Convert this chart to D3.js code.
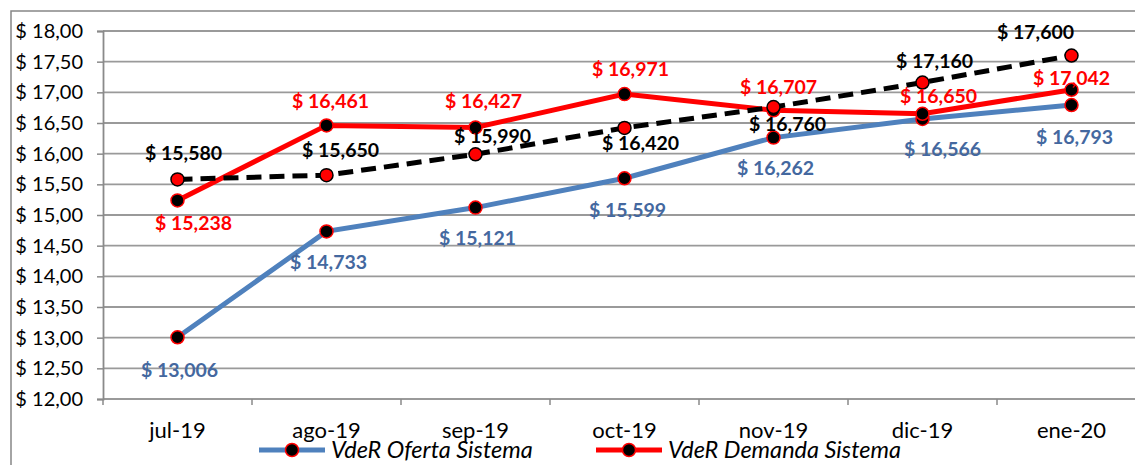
<!DOCTYPE html>
<html>
<head>
<meta charset="utf-8">
<script src="https://cdn.jsdelivr.net/npm/d3@7"></script>
<style>
  body { margin: 0; background: #fff; }
  svg { display: block; font-family: Lato, "Open Sans", sans-serif; }
</style>
</head>
<body>
<div id="chart"></div>
<script>
// Data
const months = ['jul-19', 'ago-19', 'sep-19', 'oct-19', 'nov-19', 'dic-19', 'ene-20'];
const oferta = [13.006, 14.733, 15.121, 15.599, 16.262, 16.566, 16.793];
const demanda = [15.238, 16.461, 16.427, 16.971, 16.707, 16.650, 17.042];
const referencia = [15.580, 15.650, 15.990, 16.420, 16.760, 17.160, 17.600];
const yTicks = [12, 12.5, 13, 13.5, 14, 14.5, 15, 15.5, 16, 16.5, 17, 17.5, 18];

const W = 1135, H = 465;
const margin = { top: 31, left: 103, bottom: 66 };
const plotH = H - margin.top - margin.bottom;
const band = 149;

const svg = d3.select('#chart').append('svg')
  .attr('width', W)
  .attr('height', H);

// Outer chart border (right/bottom edges fall outside the picture)
svg.append('rect')
  .attr('x', 11).attr('y', 11)
  .attr('width', W + 20).attr('height', H + 20)
  .attr('fill', 'none')
  .attr('stroke', '#868686')
  .attr('stroke-width', 1.5);

const x = d3.scaleBand()
  .domain(months)
  .range([margin.left, margin.left + band * months.length])
  .paddingInner(0).paddingOuter(0);

const y = d3.scaleLinear()
  .domain([12, 18])
  .range([margin.top + plotH, margin.top]);

const cx = d => x(d) + x.bandwidth() / 2;

const fmtTick = d => '$ ' + d3.format('.2f')(d).replace('.', ',');
const fmtLabel = d => '$ ' + d3.format('.3f')(d).replace('.', ',');

// Grid lines
svg.append('g')
  .selectAll('line')
  .data(yTicks)
  .join('line')
  .attr('x1', margin.left)
  .attr('x2', W + 20)
  .attr('y1', d => y(d))
  .attr('y2', d => y(d))
  .attr('stroke', '#9a9a9a')
  .attr('stroke-width', 1.8);

// Y axis
const yAxis = svg.append('g')
  .attr('transform', `translate(${margin.left},0)`)
  .call(d3.axisLeft(y).tickValues(yTicks).tickFormat(fmtTick).tickSize(6).tickPadding(14));
yAxis.select('.domain').attr('stroke', '#8a8a8a').attr('stroke-width', 1.8);
yAxis.selectAll('.tick line').attr('stroke', '#8a8a8a').attr('stroke-width', 1.5);
yAxis.selectAll('.tick text')
  .attr('fill', '#000')
  .style('font-size', '20px')
  .style('font-family', 'Lato, sans-serif');

// X axis
const xAxis = svg.append('g')
  .attr('transform', `translate(0,${y(12)})`)
  .call(d3.axisBottom(x).tickSize(0).tickPadding(23));
xAxis.select('.domain').remove();
xAxis.selectAll('.tick text')
  .attr('fill', '#000')
  .style('font-size', '22px')
  .style('font-family', 'Lato, sans-serif');
// boundary ticks between categories
svg.append('g')
  .selectAll('line')
  .data(d3.range(months.length + 1))
  .join('line')
  .attr('x1', i => margin.left + i * band)
  .attr('x2', i => margin.left + i * band)
  .attr('y1', y(12))
  .attr('y2', y(12) + 6)
  .attr('stroke', '#8a8a8a')
  .attr('stroke-width', 1.5);

// Label offsets [dx, dy] per point, placed as in the reference
const series = [
  { name: 'VdeR Oferta Sistema', values: oferta, color: '#4f81bd', labelColor: '#44689f',
    width: 5, dash: null, markerFill: '#000', markerStroke: '#ff0000',
    offsets: [[2, 33], [2, 31], [2, 31], [3, 32], [2, 31], [20, 30], [3, 32]] },
  { name: 'VdeR Demanda Sistema', values: demanda, color: '#ff0000', labelColor: '#ff0000',
    width: 5, dash: null, markerFill: '#000', markerStroke: '#ff0000',
    offsets: [[16, 23], [4, -24], [8, -26], [6, -25], [5, -23], [16, -18], [0, -12]] },
  { name: 'Referencia', values: referencia, color: '#000', labelColor: '#000',
    width: 5, dash: '15,8', markerFill: '#ff0000', markerStroke: '#000',
    offsets: [[6, -26], [14, -25], [17, -18], [16, 15], [14, 17], [12, -21], [-36, -23]] }
];

const line = d3.line()
  .x((d, i) => cx(months[i]))
  .y(d => y(d));

series.forEach(s => {
  svg.append('path')
    .datum(s.values)
    .attr('fill', 'none')
    .attr('stroke', s.color)
    .attr('stroke-width', s.width)
    .attr('stroke-dasharray', s.dash)
    .attr('d', line);

  svg.append('g')
    .selectAll('circle')
    .data(s.values)
    .join('circle')
    .attr('cx', (d, i) => cx(months[i]))
    .attr('cy', d => y(d))
    .attr('r', 6.5)
    .attr('fill', s.markerFill)
    .attr('stroke', s.markerStroke)
    .attr('stroke-width', 1.5);
});

// Data labels on top
series.forEach(s => {
  svg.append('g')
    .selectAll('text')
    .data(s.values)
    .join('text')
    .attr('x', (d, i) => cx(months[i]) + s.offsets[i][0])
    .attr('y', (d, i) => y(d) + s.offsets[i][1])
    .attr('dy', '0.35em')
    .attr('text-anchor', 'middle')
    .style('font-size', '19.5px')
    .style('font-weight', 'bold')
    .attr('fill', s.labelColor)
    .text(fmtLabel);
});

// Legend (only the first two series are visible in the picture)
const legendItems = [
  { s: series[0], x: 259 },
  { s: series[1], x: 596 }
];
const legend = svg.append('g').attr('transform', 'translate(0,450)');
legendItems.forEach(({ s, x: lx }) => {
  const g = legend.append('g').attr('transform', `translate(${lx},0)`);
  g.append('line')
    .attr('x1', 0).attr('x2', 66)
    .attr('stroke', s.color)
    .attr('stroke-width', 5);
  g.append('circle')
    .attr('cx', 33)
    .attr('r', 6.5)
    .attr('fill', s.markerFill)
    .attr('stroke', s.markerStroke)
    .attr('stroke-width', 1.5);
  g.append('text')
    .attr('x', 72)
    .attr('dy', '0.35em')
    .style('font-size', '23.5px')
    .style('font-style', 'italic')
    .attr('fill', '#000')
    .text(s.name);
});
</script>
</body>
</html>
